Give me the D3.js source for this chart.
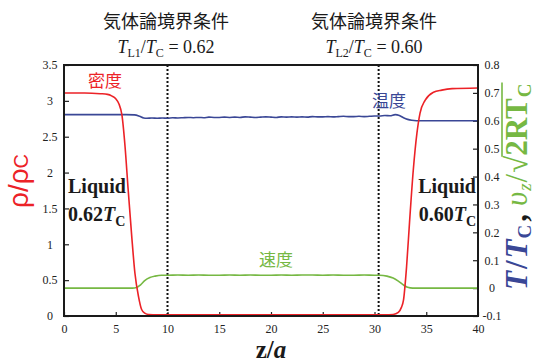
<!DOCTYPE html>
<html>
<head>
<meta charset="utf-8">
<script src="https://cdn.jsdelivr.net/npm/d3@7"></script>
<style>
  html, body { margin: 0; padding: 0; background: #fff; }
  svg { display: block; }
</style>
</head>
<body>
<svg id="chart" width="537" height="362"></svg>
<script>
// Density profile rho/rho_C along z/a
const zRho = [0, 2, 3.5, 4.2, 4.6, 5.0, 5.3, 5.6, 5.9, 6.2, 6.55, 6.85, 7.2, 7.5, 7.8, 8.2, 9, 12, 16, 20, 24, 28, 31, 31.8, 32.3, 32.6, 32.8, 33.1, 33.4, 33.75, 34.1, 34.4, 34.9, 35.7, 36.5, 37.5, 40];
const rho  = [3.11, 3.11, 3.10, 3.09, 3.07, 3.03, 2.96, 2.80, 2.36, 1.76, 1.10, 0.60, 0.27, 0.09, 0.04, 0.02, 0.015, 0.015, 0.015, 0.015, 0.015, 0.015, 0.015, 0.02, 0.05, 0.12, 0.22, 0.69, 1.34, 2.04, 2.55, 2.83, 3.01, 3.12, 3.15, 3.17, 3.18];

// Temperature profile T/T_C
const zTemp = [0, 6.0, 6.8, 7.3, 7.7, 8.0, 8.5, 9.0, 9.5, 10.0, 10.5, 11.0, 11.5, 12.0, 12.5, 13.0, 13.5, 14.0, 14.5, 15.0, 15.5, 16.0, 16.5, 17.0, 17.5, 18.0, 18.5, 19.0, 19.5, 20.0, 20.5, 21.0, 21.5, 22.0, 22.5, 23.0, 23.5, 24.0, 24.5, 25.0, 25.5, 26.0, 26.5, 27.0, 27.5, 28.0, 28.5, 29.0, 29.5, 30.0, 30.5, 31.0, 31.5, 32.0, 32.4, 32.8, 33.2, 33.6, 34.5, 40];
const temp  = [0.622, 0.622, 0.621, 0.616, 0.610, 0.609, 0.610, 0.609, 0.610, 0.609, 0.611, 0.610, 0.611, 0.612, 0.611, 0.612, 0.611, 0.613, 0.612, 0.612, 0.613, 0.612, 0.613, 0.612, 0.614, 0.613, 0.612, 0.613, 0.614, 0.613, 0.612, 0.614, 0.613, 0.614, 0.613, 0.614, 0.613, 0.615, 0.614, 0.614, 0.615, 0.614, 0.615, 0.616, 0.615, 0.615, 0.616, 0.615, 0.616, 0.617, 0.617, 0.619, 0.618, 0.622, 0.619, 0.611, 0.605, 0.602, 0.600, 0.600];

// Velocity profile v_z / sqrt(2 R T_C)
const zVel = [0, 6.6, 7.0, 7.4, 7.8, 8.3, 8.8, 9.4, 10, 11, 12, 13, 14, 15, 16, 17, 18, 19, 20, 21, 22, 23, 24, 25, 26, 27, 28, 29, 30, 30.5, 31.2, 31.8, 32.3, 32.8, 33.2, 33.7, 40];
const vel  = [0, 0, 0.002, 0.012, 0.027, 0.038, 0.043, 0.046, 0.046, 0.047, 0.046, 0.047, 0.046, 0.046, 0.047, 0.046, 0.047, 0.046, 0.046, 0.047, 0.046, 0.047, 0.047, 0.046, 0.047, 0.046, 0.046, 0.047, 0.046, 0.046, 0.043, 0.036, 0.025, 0.011, 0.003, 0, 0];

// Axis ticks
const xTicks = [0, 5, 10, 15, 20, 25, 30, 35, 40];
const yLeftTicks = [0, 0.5, 1, 1.5, 2, 2.5, 3, 3.5];
const yRightTicks = [-0.1, 0, 0.1, 0.2, 0.3, 0.4, 0.5, 0.6, 0.7, 0.8];

// Kinetic boundary positions
const boundaryZ = [10, 30.4];

const RED = "#ec2227", BLUE = "#3a4796", GREEN = "#76b843";
const SERIF = "'Liberation Serif', 'Times New Roman', serif";
const CJK = "'Noto Sans CJK JP', 'Noto Sans CJK SC', sans-serif";

const svg = d3.select("#chart");
const L = 64, R = 478, T = 65, B = 316;

const x = d3.scaleLinear().domain([0, 40]).range([L, R]);
const yL = d3.scaleLinear().domain([0, 3.5]).range([B, T]);
const yR = d3.scaleLinear().domain([-0.1, 0.8]).range([B, T]);

// Axes with inward ticks
const gx = svg.append("g").attr("transform", `translate(0,${B})`)
  .call(d3.axisBottom(x).tickValues(xTicks).tickSize(-4).tickSizeOuter(0).tickFormat(d3.format("d")));
const gl = svg.append("g").attr("transform", `translate(${L},0)`)
  .call(d3.axisLeft(yL).tickValues(yLeftTicks).tickSize(-5).tickSizeOuter(0).tickFormat(d => String(d)));
const gr = svg.append("g").attr("transform", `translate(${R},0)`)
  .call(d3.axisRight(yR).tickValues(yRightTicks).tickSize(-5).tickSizeOuter(0).tickFormat(d => String(d)));

[gx, gl, gr].forEach(g => {
  g.select(".domain").remove();
  g.selectAll(".tick line").attr("stroke", "#222").attr("stroke-width", 1.2);
  g.selectAll("text").attr("font-family", SERIF).attr("font-size", 12).attr("fill", "#222");
});
gl.selectAll("text").attr("text-anchor", "middle").attr("x", -14);
gr.selectAll("text").attr("text-anchor", "middle").attr("x", 14);
gx.selectAll("text").attr("dy", "0.71em").attr("y", 8);

// Dotted boundary lines
svg.selectAll(".bnd").data(boundaryZ).enter().append("line")
  .attr("x1", d => x(d)).attr("x2", d => x(d))
  .attr("y1", T).attr("y2", B)
  .attr("stroke", "#111").attr("stroke-width", 2).attr("stroke-dasharray", "2,2");

// Profiles
const lineRho = d3.line().x((d, i) => x(zRho[i])).y(d => yL(d)).curve(d3.curveMonotoneX);
const lineT = d3.line().x((d, i) => x(zTemp[i])).y(d => yR(d)).curve(d3.curveMonotoneX);
const lineV = d3.line().x((d, i) => x(zVel[i])).y(d => yR(d)).curve(d3.curveMonotoneX);

svg.append("path").attr("d", lineT(temp)).attr("fill", "none").attr("stroke", BLUE).attr("stroke-width", 1.6);
svg.append("path").attr("d", lineV(vel)).attr("fill", "none").attr("stroke", GREEN).attr("stroke-width", 1.6);
svg.append("path").attr("d", lineRho(rho)).attr("fill", "none").attr("stroke", RED).attr("stroke-width", 1.6);

// Frame
svg.append("rect").attr("x", L).attr("y", T).attr("width", R - L).attr("height", B - T)
  .attr("fill", "none").attr("stroke", "#1a1a1a").attr("stroke-width", 2);

// Series labels
svg.append("text").attr("x", 105).attr("y", 87).attr("text-anchor", "middle")
  .attr("font-family", CJK).attr("font-size", 17).attr("fill", RED).text("密度");
svg.append("text").attr("x", 389).attr("y", 107).attr("text-anchor", "middle")
  .attr("font-family", CJK).attr("font-size", 17).attr("fill", BLUE).text("温度");
svg.append("text").attr("x", 276).attr("y", 266).attr("text-anchor", "middle")
  .attr("font-family", CJK).attr("font-size", 17).attr("fill", GREEN).text("速度");

// Boundary condition titles
const titles = [
  { cx: 166, sub: "L1", val: "0.62" },
  { cx: 374, sub: "L2", val: "0.60" }
];
titles.forEach(t => {
  svg.append("text").attr("x", t.cx).attr("y", 28).attr("text-anchor", "middle")
    .attr("font-family", CJK).attr("font-size", 18).attr("fill", "#1a1a1a").text("気体論境界条件");
  const tx = svg.append("text").attr("x", t.cx).attr("y", 53).attr("text-anchor", "middle")
    .attr("font-family", SERIF).attr("font-size", 18).attr("fill", "#1a1a1a");
  tx.append("tspan").attr("font-style", "italic").text("T");
  tx.append("tspan").attr("font-size", 12).attr("dy", 4).text(t.sub);
  tx.append("tspan").attr("dy", -4).text("/");
  tx.append("tspan").attr("font-style", "italic").text("T");
  tx.append("tspan").attr("font-size", 12).attr("dy", 4).text("C");
  tx.append("tspan").attr("dy", -4).text(" = " + t.val);
});

// Liquid annotations
function liquid(xPos, anchor, val) {
  svg.append("text").attr("x", xPos).attr("y", 193).attr("text-anchor", anchor)
    .attr("font-family", SERIF).attr("font-weight", "bold").attr("font-size", 20).attr("fill", "#1a1a1a").text("Liquid");
  const t = svg.append("text").attr("x", xPos).attr("y", 221).attr("text-anchor", anchor)
    .attr("font-family", SERIF).attr("font-weight", "bold").attr("font-size", 20).attr("fill", "#1a1a1a");
  t.append("tspan").text(val);
  t.append("tspan").attr("font-style", "italic").text("T");
  t.append("tspan").attr("font-size", 14).attr("dy", 5).text("C");
}
liquid(68, "start", "0.62");
liquid(476, "end", "0.60");

// x-axis title
const xt = svg.append("text").attr("x", 271).attr("y", 358).attr("text-anchor", "middle")
  .attr("font-family", SERIF).attr("font-weight", "bold").attr("font-size", 25).attr("fill", "#1a1a1a");
xt.append("tspan").text("z/");
xt.append("tspan").attr("font-style", "italic").text("a");

// Left y-axis title
const ylt = svg.append("text").attr("transform", "translate(28,181) rotate(-90)").attr("text-anchor", "middle")
  .attr("font-family", "'Liberation Sans', Arial, sans-serif").attr("font-size", 28).attr("fill", RED);
ylt.append("tspan").text("ρ/ρ");
ylt.append("tspan").attr("font-size", 20).text("C");

// Right y-axis title built from sequential pieces
const gRt = svg.append("g").attr("transform", "translate(527,290) rotate(-90)");
let cur = 0;
function piece(txt, opts) {
  const el = gRt.append("text").attr("x", cur).attr("y", opts.dy || 0)
    .attr("font-family", SERIF).attr("font-size", opts.size || 31)
    .attr("font-weight", opts.bold ? "bold" : "normal")
    .attr("font-style", opts.italic ? "italic" : "normal")
    .attr("fill", opts.color).text(txt);
  const w = el.node().getComputedTextLength();
  const start = cur;
  cur += w + (opts.gap || 0);
  return [start, cur];
}
piece("T", { color: BLUE, bold: true, italic: true, gap: 2 });
piece("/", { color: BLUE, bold: true, gap: 2 });
piece("T", { color: BLUE, bold: true, italic: true, gap: 1 });
piece("C", { color: BLUE, bold: true, size: 19, dy: 4, gap: 3 });
piece(",", { color: "#1a1a1a", bold: true, gap: 8 });
piece("υ", { color: GREEN, italic: true, gap: 1 });
piece("z", { color: GREEN, italic: true, size: 19, dy: 4, gap: 1 });
piece("/", { color: GREEN, gap: 1 });
piece("√", { color: GREEN });
const s1 = piece("2RT", { color: GREEN, bold: true, gap: 1 });
const s2 = piece("C", { color: GREEN, bold: true, size: 19, dy: 4 });
gRt.append("line").attr("x1", s1[0] - 1).attr("x2", s2[1] + 1).attr("y1", -25).attr("y2", -25)
  .attr("stroke", GREEN).attr("stroke-width", 1.6);
</script>
</body>
</html>
